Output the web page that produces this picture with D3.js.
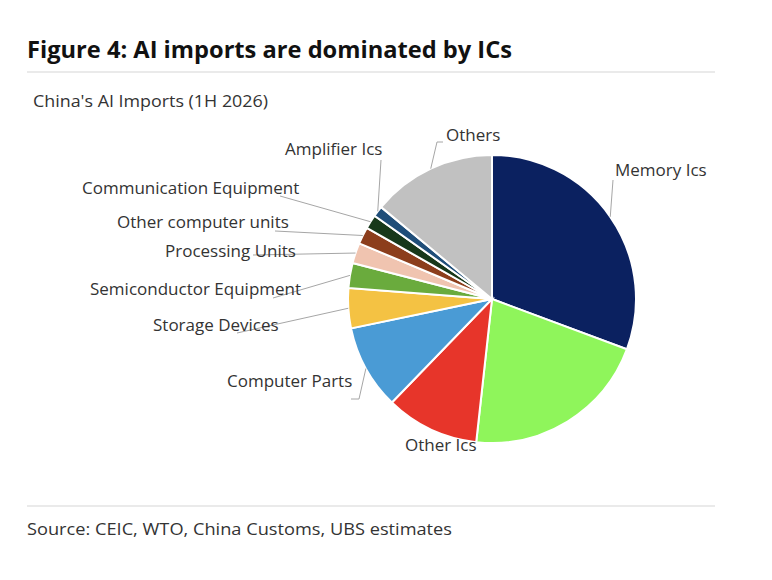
<!DOCTYPE html>
<meta charset="utf-8">
<style>
body { margin: 0; background: #fff; }
text { font-family: "Open Sans", "Noto Sans", sans-serif; fill: #262626; }
.title { font-weight: 700; font-size: 23px; fill: #111; }
.sub { font-size: 16px; fill: #333; }
.lbl { font-size: 17px; fill: #333; }
.src { font-size: 17px; fill: #333; }
.leader { fill: none; stroke: #a6a6a6; stroke-width: 1px; }
.rule { stroke: #e3e3e3; stroke-width: 1.5px; }
</style>
<body>
<script src="https://d3js.org/d3.v7.min.js"></script>
<script>

// data (share of China's AI imports, %)
var categories = ["Memory Ics", "", "Other Ics", "Computer Parts", "Storage Devices",
                  "Semiconductor Equipment", "Processing Units", "Other computer units",
                  "Communication Equipment", "Amplifier Ics", "Others"];
var shares = [30.7, 21.1, 10.5, 9.5, 4.5, 2.8, 2.3, 1.9, 1.6, 1.2, 14.0];
var colors = ["#0b2160", "#8ff55b", "#e7352a", "#4a9bd5", "#f4c243", "#6aab3d",
              "#f0c4b0", "#8c3e1c", "#17381a", "#1f4e79", "#c1c1c1"];

// label placement (left x, middle y) and leader start points
var labelLayout = {
  "Memory Ics":              {x: 615, y: 170, lead: [[613, 180]]},
  "Other Ics":               {x: 405, y: 445, lead: null},
  "Computer Parts":          {x: 227, y: 381, lead: [[351, 399], [359, 399]]},
  "Storage Devices":         {x: 153, y: 325, lead: [[237, 333]]},
  "Semiconductor Equipment": {x: 90,  y: 289, lead: [[273, 298]]},
  "Processing Units":        {x: 165, y: 251, lead: [[253, 255]]},
  "Other computer units":    {x: 117, y: 222, lead: [[275, 231]]},
  "Communication Equipment": {x: 82,  y: 188, lead: [[280, 196]]},
  "Amplifier Ics":           {x: 285, y: 149, lead: [[381, 160]]},
  "Others":                  {x: 446, y: 135, lead: [[443, 142], [437, 142]]}
};

var W = 772, H = 580;
var cx = 492, cy = 299, r = 144;

var svg = d3.select("body").append("svg")
    .attr("width", W)
    .attr("height", H);

// header
svg.append("text").attr("class", "title")
    .attr("x", 27).attr("y", 58)
    .attr("textLength", 485).attr("lengthAdjust", "spacingAndGlyphs")
    .text("Figure 4: AI imports are dominated by ICs");
svg.append("line").attr("class", "rule")
    .attr("x1", 27).attr("x2", 715).attr("y1", 72).attr("y2", 72);
svg.append("text").attr("class", "sub")
    .attr("x", 33).attr("y", 107)
    .attr("textLength", 235).attr("lengthAdjust", "spacingAndGlyphs")
    .text("China's AI Imports (1H 2026)");

// footer
svg.append("line").attr("class", "rule")
    .attr("x1", 27).attr("x2", 715).attr("y1", 506).attr("y2", 506);
svg.append("text").attr("class", "src")
    .attr("x", 27).attr("y", 535)
    .attr("textLength", 425).attr("lengthAdjust", "spacingAndGlyphs")
    .text("Source: CEIC, WTO, China Customs, UBS estimates");

var data = categories.map(function(c, i) {
  return {name: c, value: shares[i], color: colors[i]};
});

var pie = d3.pie().sort(null).value(function(d) { return d.value; });
var arc = d3.arc().innerRadius(0).outerRadius(r);
var edge = d3.arc().innerRadius(r).outerRadius(r);

var arcs = pie(data);

var g = svg.append("g").attr("transform", "translate(" + cx + "," + cy + ")");

// leader lines
svg.append("g").selectAll("path")
  .data(arcs.filter(function(d) { return labelLayout[d.data.name] && labelLayout[d.data.name].lead; }))
  .join("path")
    .attr("class", "leader")
    .attr("d", function(d) {
      var p = edge.centroid(d);
      var pts = labelLayout[d.data.name].lead.concat([[cx + p[0], cy + p[1]]]);
      return d3.line()(pts);
    });

g.selectAll("path")
  .data(arcs)
  .join("path")
    .attr("d", arc)
    .attr("fill", function(d) { return d.data.color; })
    .attr("stroke", "#fff")
    .attr("stroke-width", 2);

// labels
svg.append("g").selectAll("text")
  .data(arcs.filter(function(d) { return labelLayout[d.data.name]; }))
  .join("text")
    .attr("class", "lbl")
    .attr("x", function(d) { return labelLayout[d.data.name].x; })
    .attr("y", function(d) { return labelLayout[d.data.name].y; })
    .attr("dy", "0.35em")
    .text(function(d) { return d.data.name; });

</script>
</body>
